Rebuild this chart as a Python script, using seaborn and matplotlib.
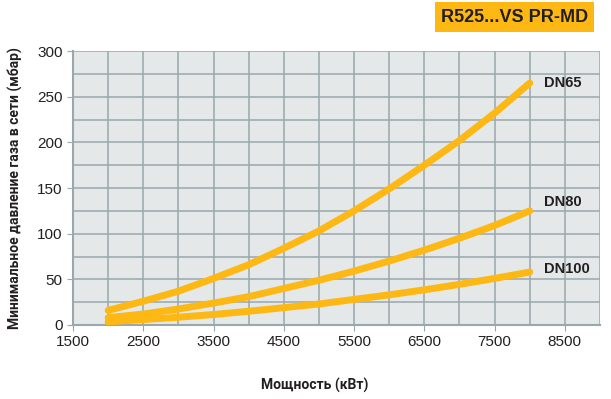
import pandas as pd
import numpy as np
import matplotlib.pyplot as plt
import seaborn as sns

# DATA
power = [2000, 2500, 3000, 3500, 4000, 4500, 5000, 5500, 6000, 6500, 7000, 7500, 8000]
dn65 = [16, 26, 37, 51, 66, 84, 103, 125, 149, 175, 202, 232, 265]
dn80 = [8, 12, 17.5, 24, 31, 40, 49, 59, 70, 82, 95, 109, 125]
dn100 = [3.5, 6, 8.5, 11.5, 15, 19, 23, 28, 33, 38.5, 44.5, 51, 58]
series_names = ["DN65", "DN80", "DN100"]
label_offsets = [0, 10, 3.5]
x_ticks = [1500, 2500, 3500, 4500, 5500, 6500, 7500, 8500]
y_ticks = [0, 50, 100, 150, 200, 250, 300]

df = pd.DataFrame({"power": power * 3,
                   "dp": dn65 + dn80 + dn100,
                   "name": np.repeat(series_names, len(power))})

orange = "#FDB813"
grid_col = "#9AA8AE"

sns.set_style("white")
plt.rcParams["font.family"] = ["Liberation Sans", "DejaVu Sans"]

fig = plt.figure(figsize=(6.11, 3.99), dpi=100)
ax = fig.add_axes([0.1195, 0.1855, 0.8625, 0.6865])
ax.set_facecolor("#E4E8E9")

for name, off in zip(series_names, label_offsets):
    sub = df[df["name"] == name]
    sns.lineplot(data=sub, x="power", y="dp", ax=ax,
                 color=orange, lw=5, solid_capstyle="round", zorder=3)
    last = sub.iloc[-1]
    ax.text(last["power"] + 200, last["dp"] + off, name, fontsize=10.5,
            fontweight="bold", color="#231F20", va="center", ha="left")

ax.set_xlim(1500, 9000)
ax.set_ylim(0, 300)
ax.set_xticks(x_ticks)
ax.set_yticks(y_ticks)
ax.set_xticks(np.arange(1500, 9001, 500), minor=True)
ax.set_yticks(np.arange(0, 301, 25), minor=True)
ax.grid(which="both", color=grid_col, lw=1.1, zorder=1)
ax.set_axisbelow(True)
ax.tick_params(axis="both", which="major", labelsize=11, labelcolor="#231F20",
               length=4, color=grid_col, direction="out", bottom=True, left=True)
ax.tick_params(which="minor", length=0)
for s in ["top", "right"]:
    ax.spines[s].set_visible(False)
for s in ["left", "bottom"]:
    ax.spines[s].set_color(grid_col)
    ax.spines[s].set_linewidth(1.5)

ax.set_xlabel("Мощность (кВт)", fontsize=10, fontweight="bold",
              family=["Roboto", "DejaVu Sans"], color="#231F20")
ax.xaxis.set_label_coords(0.459, -0.195)
ax.set_ylabel("Минимальное давление газа в сети (мбар)", fontsize=10,
              fontweight="bold", labelpad=10, family=["Roboto", "DejaVu Sans"],
              color="#231F20")

fig.text(0.842, 0.957, "R525...VS PR-MD", fontsize=13, fontweight="bold",
         color="#231F20", ha="center", va="center",
         bbox=dict(boxstyle="square,pad=0.35", fc=orange, ec="none"))

fig.savefig("out.png", dpi=100)
